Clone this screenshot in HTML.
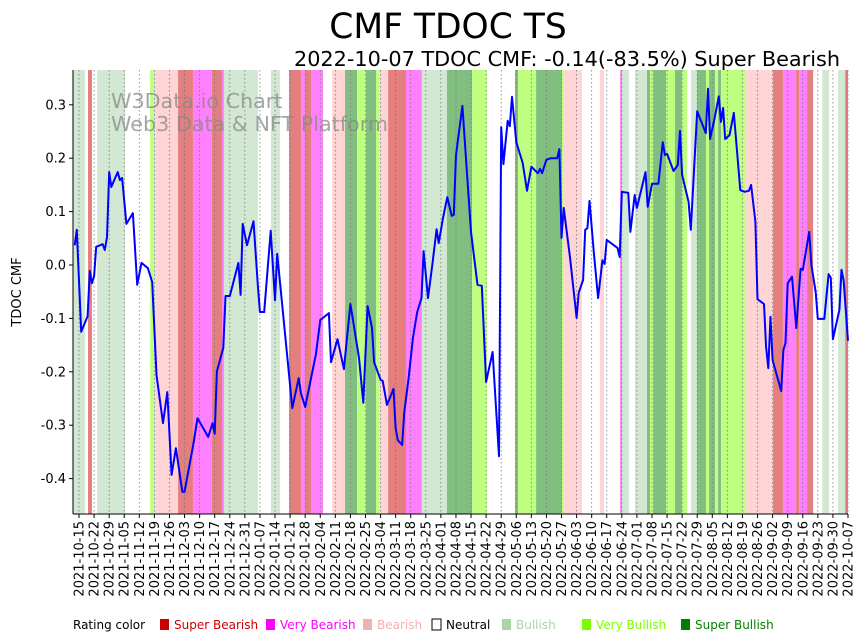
<!DOCTYPE html>
<html><head><meta charset="utf-8"><style>
body{margin:0;background:#fff;}
svg{display:block;font-family:"DejaVu Sans","Liberation Sans",sans-serif;}
</style></head><body>
<svg id="chart" width="864" height="641" viewBox="0 0 864 641">
<text x="448" y="38" font-size="34.5" text-anchor="middle">CMF TDOC TS</text>
<text x="840" y="66" font-size="20.8" text-anchor="end">2022-10-07 TDOC CMF: -0.14(-83.5%) Super Bearish</text>
<g id="bands"></g>
<g id="grid"></g>
<text x="111" y="108" font-size="20.7" fill="#888" opacity="0.75">W3Data.io Chart</text>
<text x="111" y="131" font-size="20.7" fill="#888" opacity="0.75">Web3 Data &amp; NFT Platform</text>
<g id="series"></g>
<g id="axes"></g>
<text transform="translate(21,292) rotate(-90)" font-size="13" text-anchor="middle">TDOC CMF</text>
<g id="legend"></g>
</svg>
<script>
const tickLabels=["2021-10-15","2021-10-22","2021-10-29","2021-11-05","2021-11-12","2021-11-19","2021-11-26","2021-12-03","2021-12-10","2021-12-17","2021-12-24","2021-12-31","2022-01-07","2022-01-14","2022-01-21","2022-01-28","2022-02-04","2022-02-11","2022-02-18","2022-02-25","2022-03-04","2022-03-11","2022-03-18","2022-03-25","2022-04-01","2022-04-08","2022-04-15","2022-04-22","2022-04-29","2022-05-06","2022-05-13","2022-05-20","2022-05-27","2022-06-03","2022-06-10","2022-06-17","2022-06-24","2022-07-01","2022-07-08","2022-07-15","2022-07-22","2022-07-29","2022-08-05","2022-08-12","2022-08-19","2022-08-26","2022-09-02","2022-09-09","2022-09-16","2022-09-23","2022-09-30","2022-10-07"];
const yTicks=[0.3,0.2,0.1,0.0,-0.1,-0.2,-0.3,-0.4];
// days since 2021-10-15
const days=[-2,-1,1,4,5,6,7,8,11,12,13,14,15,17,18,19,20,22,25,27,29,32,34,36,39,41,43,45,48,49,53,55,60,62,63,64,67,68,70,74,75,76,78,81,83,84,86,89,91,92,99,102,103,105,110,112,116,117,120,123,126,130,132,134,136,137,140,141,143,146,147,148,150,151,153,155,157,159,160,162,164,166,167,169,171,173,174,175,178,182,185,187,189,192,195,196,197,199,200,201,203,206,208,210,213,214,215,217,219,222,223,224,225,228,231,232,234,235,236,237,239,241,243,244,245,250,251,252,255,256,258,259,263,264,266,269,271,272,273,276,278,279,280,283,284,287,291,292,293,295,297,298,299,300,302,304,307,309,311,312,314,315,318,319,320,321,322,326,327,328,329,331,333,335,336,339,340,342,343,346,348,349,350,353,354,355,357];
const cmf=[0.037,0.066,-0.125,-0.096,-0.011,-0.034,-0.021,0.034,0.039,0.028,0.052,0.174,0.146,0.165,0.174,0.159,0.163,0.077,0.097,-0.037,0.004,-0.006,-0.032,-0.206,-0.296,-0.238,-0.393,-0.343,-0.425,-0.425,-0.337,-0.287,-0.322,-0.296,-0.316,-0.199,-0.155,-0.058,-0.058,0.004,-0.056,0.077,0.037,0.082,-0.037,-0.088,-0.088,0.064,-0.066,0.021,-0.268,-0.212,-0.240,-0.266,-0.167,-0.103,-0.090,-0.182,-0.139,-0.195,-0.073,-0.174,-0.258,-0.077,-0.118,-0.182,-0.215,-0.217,-0.262,-0.232,-0.305,-0.328,-0.337,-0.275,-0.212,-0.137,-0.088,-0.062,0.026,-0.062,0.0,0.067,0.041,0.088,0.127,0.092,0.094,0.206,0.298,0.062,-0.037,-0.039,-0.219,-0.163,-0.358,0.258,0.189,0.270,0.260,0.315,0.230,0.191,0.139,0.184,0.172,0.180,0.172,0.197,0.200,0.200,0.217,0.051,0.107,0.013,-0.099,-0.052,-0.028,0.066,0.069,0.120,0.024,-0.062,0.009,0.002,0.047,0.032,0.015,0.137,0.135,0.062,0.131,0.107,0.174,0.109,0.152,0.152,0.230,0.206,0.208,0.176,0.187,0.251,0.169,0.118,0.066,0.288,0.247,0.330,0.236,0.273,0.316,0.268,0.294,0.236,0.243,0.285,0.140,0.137,0.139,0.150,0.081,-0.064,-0.073,-0.154,-0.193,-0.097,-0.178,-0.236,-0.159,-0.146,-0.034,-0.022,-0.118,-0.007,-0.009,0.062,0.0,-0.051,-0.101,-0.101,-0.017,-0.024,-0.139,-0.084,-0.009,-0.030,-0.142];
// rating bands: 0 SuperBearish,1 VeryBearish,2 Bearish,3 Neutral,4 Bullish,5 VeryBullish,6 SuperBullish
const bandStart=[-2.8,4.2,8.4,33.0,34.4,35.7,46.0,52.9,61.7,66.4,67.3,89.1,97.5,103.1,104.9,107.7,117.5,123.5,129.1,133.2,137.9,139.3,143.5,151.8,159.2,170.8,182.5,202.4,203.8,212.2,224.2,224.7,241.9,251.2,252.1,258.1,263.7,265.1,266.5,272.5,276.7,279.9,284.1,286.9,291.1,292.5,295.3,296.7,298.1,309.2,322.2,326.8,332.9,334.3,338.0,345.0,352.4,355.7];
const bandEnd=[2.8,6.0,21.4,34.4,35.7,46.0,52.9,61.7,66.4,67.3,83.1,93.3,103.1,104.9,107.7,113.3,123.5,129.1,133.2,137.9,139.3,143.5,151.8,159.2,170.8,182.5,189.4,203.8,212.2,224.2,224.7,233.5,243.7,252.1,255.3,263.7,265.1,266.5,272.5,276.7,279.9,282.3,286.9,291.1,292.5,295.3,296.7,298.1,309.2,322.2,326.8,332.9,334.3,338.0,340.8,348.2,355.7,357.6];
const bandRating=[4,0,4,5,4,2,0,1,0,1,4,4,0,1,0,1,2,6,5,6,5,2,0,1,4,6,5,6,5,6,5,2,2,1,4,4,6,5,6,5,6,5,4,6,5,6,5,6,5,2,0,1,0,1,0,4,4,0];
const ratingNames=["Super Bearish","Very Bearish","Bearish","Neutral","Bullish","Very Bullish","Super Bullish"];
const bandColors=["#e57f7f","#ff80ff","#ffd4d4","#ffffff","#d3e8d3","#bfff80","#80bf80"];
const legendColors=["#cc0000","#ff00ff","#f4b0b0","#ffffff","#a8d4a8","#7cfc00","#007f00"];

const NS="http://www.w3.org/2000/svg";
const X0=73,X1=848,Y0=70,Y1=514;
function xs(d){return 79+d*(769/357);}
function ys(v){return 265-v*534;}
function mk(tag,attrs,parent){const e=document.createElementNS(NS,tag);for(const k in attrs)e.setAttribute(k,attrs[k]);parent.appendChild(e);return e;}
const gB=document.getElementById('bands');
for(let i=0;i<bandStart.length;i++){
  if(bandRating[i]===3)continue;
  const a=Math.max(X0,xs(bandStart[i])),b=Math.min(X1,xs(bandEnd[i]));
  const r=mk('rect',{x:a,y:Y0,width:Math.max(0,b-a),height:Y1-Y0,fill:bandColors[bandRating[i]]},gB);
  
  
}
const gG=document.getElementById('grid'),gA=document.getElementById('axes');
tickLabels.forEach((t,i)=>{
  const x=xs(i*7);
  const l=mk('line',{x1:x,x2:x,y1:Y0,y2:Y1,stroke:'#777','stroke-width':0.8,'stroke-dasharray':'1.5,2.5'},gG);
  
  
  mk('line',{x1:x,x2:x,y1:Y1,y2:Y1+4,stroke:'#000','stroke-width':1},gA);
  const tx=mk('text',{transform:`translate(${x+4.5},${Y1+7}) rotate(-90)`,'font-size':13,'text-anchor':'end'},gA);
  tx.textContent=t;
  
  
});
yTicks.forEach(v=>{
  const y=ys(v);
  mk('line',{x1:X0-4,x2:X0,y1:y,y2:y,stroke:'#000'},gA);
  const tx=mk('text',{x:X0-7,y:y+4.5,'font-size':13,'text-anchor':'end'},gA);
  tx.textContent=v.toFixed(1);
  
  
});
mk('line',{x1:X0,x2:X0,y1:Y0,y2:Y1,stroke:'#000'},gA);
mk('line',{x1:X0,x2:X1,y1:Y1,y2:Y1,stroke:'#000'},gA);
const gS=document.getElementById('series');
const pts=days.map((d,i)=>xs(d).toFixed(1)+','+ys(cmf[i]).toFixed(1)).join(' ');
const pl=mk('polyline',{points:pts,fill:'none',stroke:'#0000ff','stroke-width':2,'stroke-linejoin':'round'},gS);


const gL=document.getElementById('legend');
const lt=mk('text',{x:73,y:629,'font-size':12},gL);lt.textContent='Rating color';


const lx=[160,266,363,432,502,582,681];
const textCol=["#cc0000","#ff00ff","#f4b0b0","#000","#a8d4a8","#7cfc00","#007f00"];
ratingNames.forEach((n,i)=>{
  const g=mk('g',{},gL);
  
  
  mk('rect',{x:lx[i],y:619,width:9,height:11,fill:legendColors[i],stroke:i===3?'#000':'none','stroke-width':1},g);
  const t=mk('text',{x:lx[i]+14,y:629,'font-size':12,fill:textCol[i]},g);t.textContent=n;
});
</script>
</body></html>
